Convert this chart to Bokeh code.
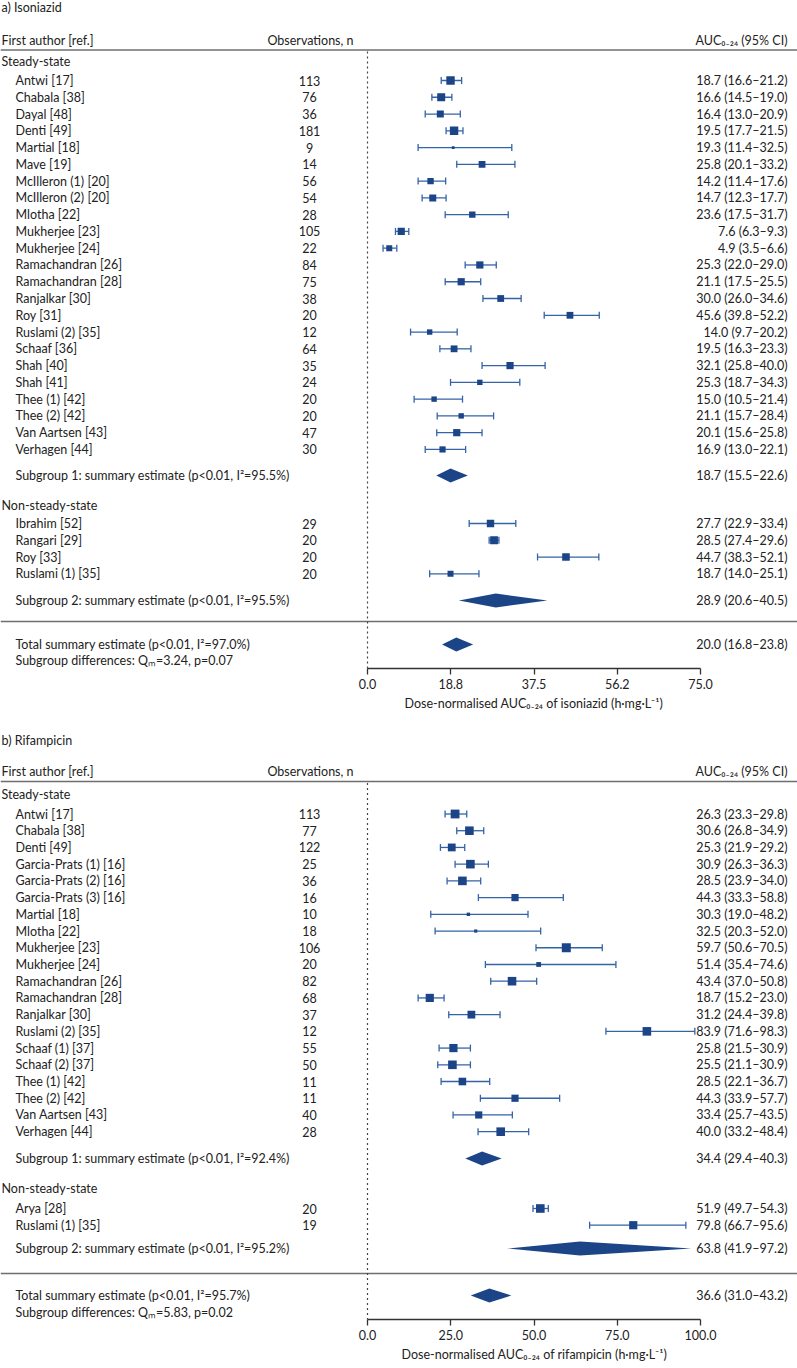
import numpy as np
from bokeh.plotting import figure
from bokeh.layouts import column
from bokeh.models import Range1d, FixedTicker, Title
from bokeh.core.properties import value
from bokeh.embed import file_html
from bokeh.resources import INLINE

FONT = "Lato"

# ---------------- a) Isoniazid ----------------
ss_authors_a = ["Antwi [17]", "Chabala [38]", "Dayal [48]", "Denti [49]", "Martial [18]", "Mave [19]",
                "McIlleron (1) [20]", "McIlleron (2) [20]", "Mlotha [22]", "Mukherjee [23]", "Mukherjee [24]",
                "Ramachandran [26]", "Ramachandran [28]", "Ranjalkar [30]", "Roy [31]", "Ruslami (2) [35]",
                "Schaaf [36]", "Shah [40]", "Shah [41]", "Thee (1) [42]", "Thee (2) [42]",
                "Van Aartsen [43]", "Verhagen [44]"]
ss_n_a = [113, 76, 36, 181, 9, 14, 56, 54, 28, 105, 22, 84, 75, 38, 20, 12, 64, 35, 24, 20, 20, 47, 30]
ss_est_a = [18.7, 16.6, 16.4, 19.5, 19.3, 25.8, 14.2, 14.7, 23.6, 7.6, 4.9, 25.3, 21.1, 30.0, 45.6, 14.0,
            19.5, 32.1, 25.3, 15.0, 21.1, 20.1, 16.9]
ss_lo_a = [16.6, 14.5, 13.0, 17.7, 11.4, 20.1, 11.4, 12.3, 17.5, 6.3, 3.5, 22.0, 17.5, 26.0, 39.8, 9.7,
           16.3, 25.8, 18.7, 10.5, 15.7, 15.6, 13.0]
ss_hi_a = [21.2, 19.0, 20.9, 21.5, 32.5, 33.2, 17.6, 17.7, 31.7, 9.3, 6.6, 29.0, 25.5, 34.6, 52.2, 20.2,
           23.3, 40.0, 34.3, 21.4, 28.4, 25.8, 22.1]
ss_w_a = [4.2, 4.0, 3.5, 4.2, 1.4, 3.4, 3.2, 3.5, 3.2, 3.6, 3.0, 3.6, 3.6, 3.4, 3.4, 2.7,
          3.4, 3.6, 2.7, 2.7, 2.7, 3.6, 3.1]

nss_authors_a = ["Ibrahim [52]", "Rangari [29]", "Roy [33]", "Ruslami (1) [35]"]
nss_n_a = [29, 20, 20, 20]
nss_est_a = [27.7, 28.5, 44.7, 18.7]
nss_lo_a = [22.9, 27.4, 38.3, 14.0]
nss_hi_a = [33.4, 29.6, 52.1, 25.1]
nss_w_a = [3.7, 3.9, 3.8, 3.0]

sub_est_a = [18.7, 28.9]
sub_lo_a = [15.5, 20.6]
sub_hi_a = [22.6, 40.5]
sub_i2_a = ["95.5%", "95.5%"]
tot_a = [20.0, 16.8, 23.8]
tot_i2_a = "97.0%"
qm_a = ["3.24", "0.07"]
ticks_a = [0, 18.75, 37.5, 56.25, 75]
tick_labels_a = ["0.0", "18.8", "37.5", "56.2", "75.0"]

# ---------------- b) Rifampicin ----------------
ss_authors_b = ["Antwi [17]", "Chabala [38]", "Denti [49]", "Garcia-Prats (1) [16]", "Garcia-Prats (2) [16]",
                "Garcia-Prats (3) [16]", "Martial [18]", "Mlotha [22]", "Mukherjee [23]", "Mukherjee [24]",
                "Ramachandran [26]", "Ramachandran [28]", "Ranjalkar [30]", "Ruslami (2) [35]",
                "Schaaf (1) [37]", "Schaaf (2) [37]", "Thee (1) [42]", "Thee (2) [42]",
                "Van Aartsen [43]", "Verhagen [44]"]
ss_n_b = [113, 77, 122, 25, 36, 16, 10, 18, 106, 20, 82, 68, 37, 12, 55, 50, 11, 11, 40, 28]
ss_est_b = [26.3, 30.6, 25.3, 30.9, 28.5, 44.3, 30.3, 32.5, 59.7, 51.4, 43.4, 18.7, 31.2, 83.9,
            25.8, 25.5, 28.5, 44.3, 33.4, 40.0]
ss_lo_b = [23.3, 26.8, 21.9, 26.3, 23.9, 33.3, 19.0, 20.3, 50.6, 35.4, 37.0, 15.2, 24.4, 71.6,
           21.5, 21.1, 22.1, 33.9, 25.7, 33.2]
ss_hi_b = [29.8, 34.9, 29.2, 36.3, 34.0, 58.8, 48.2, 52.0, 70.5, 74.6, 50.8, 23.0, 39.8, 98.3,
           30.9, 30.9, 36.7, 57.7, 43.5, 48.4]
ss_w_b = [4.4, 4.3, 3.9, 4.3, 4.3, 3.6, 1.7, 1.6, 4.5, 2.4, 4.3, 4.1, 3.9, 4.3,
          4.1, 4.3, 3.8, 3.6, 3.6, 4.3]

nss_authors_b = ["Arya [28]", "Ruslami (1) [35]"]
nss_n_b = [20, 19]
nss_est_b = [51.9, 79.8]
nss_lo_b = [49.7, 66.7]
nss_hi_b = [54.3, 95.6]
nss_w_b = [4.3, 4.1]

sub_est_b = [34.4, 63.8]
sub_lo_b = [29.4, 41.9]
sub_hi_b = [40.3, 97.2]
sub_i2_b = ["92.4%", "95.2%"]
tot_b = [36.6, 31.0, 43.2]
tot_i2_b = "95.7%"
qm_b = ["5.83", "0.02"]
ticks_b = [0, 25, 50, 75, 100]
tick_labels_b = ["0.0", "25.0", "50.0", "75.0", "100.0"]

# ---------------- styling ----------------
BOX = "#1b4587"
WHISK = "#3563a8"
DIAM = "#1b4587"
TXT = "#222222"
RULE = "#6e6e6e"
FS = "12.5px"
W = 797


def ci(e, l, h):
    return f"{e:.1f} ({l:.1f}\u2013{h:.1f})"


def build(title, ss, nss, subs, tot, tot_i2, qm, xmax, ticks, tick_labels, xlabel, L):
    fh = L["axis"]
    X0, SPAN = 367.0, 333.0

    def xd(fx):
        return (fx - X0) / SPAN * xmax

    p = figure(frame_width=W, frame_height=fh, x_range=Range1d(xd(0), xd(W)), y_range=Range1d(fh, 0),
               output_backend="svg", toolbar_location=None, y_axis_location=None,
               min_border_left=0, min_border_right=0, min_border_top=0, min_border_bottom=L["bottom"])
    p.outline_line_color = None
    p.xgrid.visible = False
    p.ygrid.visible = False

    def txt(xs, ys, texts, align="left", size=FS):
        p.text(x=xs, y=ys, text=texts, text_align=align, text_baseline="middle",
               text_font=value(FONT), text_font_size=size, text_color=TXT)

    x_head, x_ind, x_n, x_ci = xd(1), xd(15), xd(309), xd(787)

    # rows
    ss_y = [L["first"] + i * L["step"] for i in range(len(ss[0]))]
    nss_y = [L["nfirst"] + i * L["step"] for i in range(len(nss[0]))]

    # rules
    p.segment(x0=[xd(0)] * 2, x1=[xd(W)] * 2, y0=[L["hline"], L["sep"]], y1=[L["hline"], L["sep"]],
              line_color=RULE, line_width=1.6)
    p.segment(x0=[0], x1=[0], y0=[L["hline"] + 1.5], y1=[fh], line_color="#444444",
              line_width=1.2, line_dash="2 3")

    # texts
    txt([x_head], [L["title"]], [title])
    txt([x_head], [L["head"]], ["First author [ref.]"])
    txt([xd(310)], [L["head"]], ["Observations, n"], align="center")
    txt([x_ci], [L["head"]], ["AUC\u2080\u208b\u2082\u2084 (95% CI)"], align="right")
    txt([x_head, x_head], [L["ss"], L["nss"]], ["Steady-state", "Non-steady-state"])

    for (auth, n, est, lo, hi, w), ys in ((ss, ss_y), (nss, nss_y)):
        txt([x_ind] * len(ys), ys, auth)
        txt([x_n] * len(ys), ys, [str(v) for v in n], align="center")
        txt([x_ci] * len(ys), ys, [ci(e, l, h) for e, l, h in zip(est, lo, hi)], align="right")
        p.segment(x0=lo, x1=hi, y0=ys, y1=ys, line_color=WHISK, line_width=1.3)
        p.segment(x0=lo + hi, x1=lo + hi, y0=[y - 3.5 for y in ys] * 2, y1=[y + 3.5 for y in ys] * 2,
                  line_color=WHISK, line_width=1.3)
        p.scatter(x=est, y=ys, marker="square", size=[2.0 * v for v in w], fill_color=BOX, line_color=None)

    # subgroup summaries
    sub_est, sub_lo, sub_hi, sub_i2 = subs
    sub_y = [L["sub1"], L["sub2"]]
    txt([x_ind] * 2, sub_y, [f"Subgroup {i + 1}: summary estimate (p<0.01, I\u00b2={v})" for i, v in enumerate(sub_i2)])
    txt([x_ci] * 2, sub_y, [ci(e, l, h) for e, l, h in zip(sub_est, sub_lo, sub_hi)], align="right")
    hh = 7.0
    p.patches(xs=[[l, e, h, e] for e, l, h in zip(sub_est, sub_lo, sub_hi)],
              ys=[[y, y - hh, y, y + hh] for y in sub_y], fill_color=DIAM, line_color=None)

    # total
    te, tl, th = tot
    txt([x_ind], [L["total"]], [f"Total summary estimate (p<0.01, I\u00b2={tot_i2})"])
    txt([x_ci], [L["total"]], [ci(te, tl, th)], align="right")
    txt([x_ind], [L["diff"]], [f"Subgroup differences: Q\u2098={qm[0]}, p={qm[1]}"])
    p.patches(xs=[[tl, te, th, te]], ys=[[L["total"], L["total"] - hh, L["total"], L["total"] + hh]],
              fill_color=DIAM, line_color=None)

    # axis
    ax = p.xaxis[0]
    ax.bounds = (0, xmax)
    ax.ticker = FixedTicker(ticks=ticks)
    ax.major_label_overrides = {t: s for t, s in zip(ticks, tick_labels)}
    ax.minor_tick_line_color = None
    ax.major_tick_in = 0
    ax.major_tick_out = 6
    ax.axis_line_color = "#333333"
    ax.axis_line_width = 1.3
    ax.major_tick_line_color = "#333333"
    ax.major_tick_line_width = 1.3
    ax.major_label_text_font = FONT
    ax.major_label_text_font_size = FS
    ax.major_label_text_color = TXT
    ax.major_label_standoff = 4

    # axis title placed under the bounded axis (left edge chosen so it is centred on 0..max)
    p.add_layout(Title(text=xlabel, align="left", offset=L["lab_x"], standoff=4,
                       text_font=FONT, text_font_size=FS, text_font_style="normal",
                       text_color=TXT), "below")
    return p


La = dict(title=7, head=40, hline=49.5, ss=61, first=80, step=16.77, sub1=475, nss=505, nfirst=523,
          sub2=600, sep=621, total=644, diff=660, axis=668, bottom=54, lab_x=404)
Lb = dict(title=18, head=49, hline=59, ss=72, first=91.5, step=16.72, sub1=436, nss=466, nfirst=486,
          sub2=526, sep=551, total=573, diff=590, axis=597, bottom=49, lab_x=401)

p1 = build("a) Isoniazid",
           (ss_authors_a, ss_n_a, ss_est_a, ss_lo_a, ss_hi_a, ss_w_a),
           (nss_authors_a, nss_n_a, nss_est_a, nss_lo_a, nss_hi_a, nss_w_a),
           (sub_est_a, sub_lo_a, sub_hi_a, sub_i2_a), tot_a, tot_i2_a, qm_a,
           75, ticks_a, tick_labels_a,
           "Dose-normalised AUC\u2080\u208b\u2082\u2084 of isoniazid (h\u00b7mg\u00b7L\u207b\u00b9)", La)
p2 = build("b) Rifampicin",
           (ss_authors_b, ss_n_b, ss_est_b, ss_lo_b, ss_hi_b, ss_w_b),
           (nss_authors_b, nss_n_b, nss_est_b, nss_lo_b, nss_hi_b, nss_w_b),
           (sub_est_b, sub_lo_b, sub_hi_b, sub_i2_b), tot_b, tot_i2_b, qm_b,
           100, ticks_b, tick_labels_b,
           "Dose-normalised AUC\u2080\u208b\u2082\u2084 of rifampicin (h\u00b7mg\u00b7L\u207b\u00b9)", Lb)

layout = column(p1, p2, spacing=0)
open("out.html", "w").write(file_html(layout, INLINE))
